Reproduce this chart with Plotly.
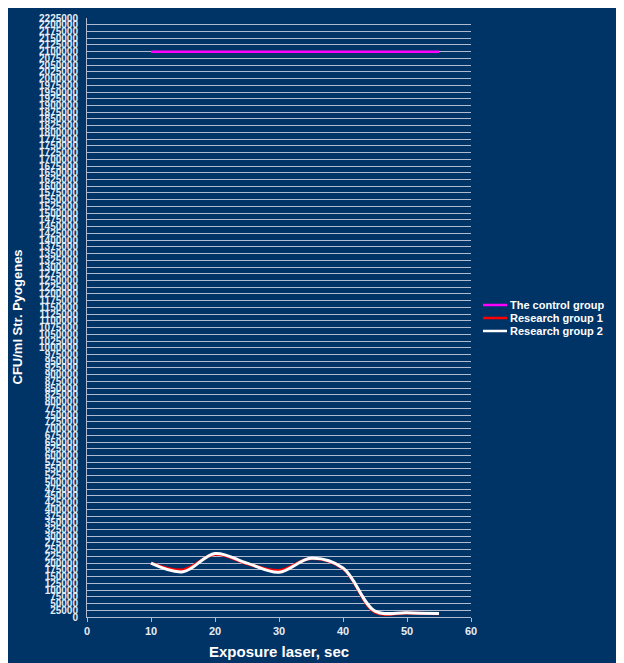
import plotly.graph_objects as go

# ---- data ----
x_control = [10, 55]
y_control = [2100000, 2100000]

x_groups = [10, 15, 20, 25, 30, 35, 40, 45, 50, 55]
y_group1 = [200000, 175000, 233000, 198000, 173000, 217000, 180000, 18000, 15000, 12000]
y_group2 = [200000, 168000, 236000, 200000, 166000, 218000, 182000, 22000, 16000, 13000]

series_names = ["The control group", "Research group 1", "Research group 2"]
series_colors = ["#ff00ff", "#ff0000", "#ffffff"]

x_ticks = [0, 10, 20, 30, 40, 50, 60]
y_max = 2225000
y_step = 25000

NAVY = "#003366"
GRID = "#aebbd0"
TXT = "#e6ecf4"

# page body has an 8px margin: figure pixel = reference pixel - 8
OFF = 8
W, H = 624 - OFF, 663 - OFF
L = 87 - OFF
T = 18 - OFF
R = W - (471 - OFF)
B = H - (617 - OFF)
pw, ph = W - L - R, H - T - B


def px_x(p):
    return (p - OFF - L) / pw


def px_y(p):
    return (H - B - (p - OFF)) / ph


fig = go.Figure()
fig.add_trace(go.Scatter(x=x_control, y=y_control, mode="lines", name=series_names[0],
                         line=dict(color=series_colors[0], width=2.5)))
fig.add_trace(go.Scatter(x=x_groups, y=y_group1, mode="lines", name=series_names[1],
                         line=dict(color=series_colors[1], width=3, shape="spline", smoothing=1)))
fig.add_trace(go.Scatter(x=x_groups, y=y_group2, mode="lines", name=series_names[2],
                         line=dict(color=series_colors[2], width=3, shape="spline", smoothing=1)))

# compact legend drawn as line swatches + labels (reference spacing is tighter than plotly's legend)
legend_y = [305, 318, 331]
for name, color, ly in zip(series_names, series_colors, legend_y):
    fig.add_shape(type="line", xref="paper", yref="paper",
                  x0=px_x(483), x1=px_x(507), y0=px_y(ly), y1=px_y(ly),
                  line=dict(color=color, width=2.5))
    fig.add_annotation(xref="paper", yref="paper", x=px_x(508), y=px_y(ly),
                       xanchor="left", yanchor="middle", showarrow=False, text=name,
                       font=dict(size=11, color="#ffffff", weight="bold"))

# axis titles
fig.add_annotation(xref="paper", yref="paper", x=px_x(17), y=0.5, textangle=-90,
                   xanchor="center", yanchor="middle", showarrow=False,
                   text="CFU/ml Str. Pyogenes",
                   font=dict(size=13, color="#ffffff", weight="bold"))
fig.add_annotation(xref="paper", yref="paper", x=0.5, y=px_y(651),
                   xanchor="center", yanchor="middle", showarrow=False,
                   text="Exposure laser, sec",
                   font=dict(size=15, color="#ffffff", weight="bold"))

fig.update_layout(
    width=W, height=H,
    margin=dict(l=L, r=R, t=T, b=B, pad=0, autoexpand=False),
    paper_bgcolor=NAVY,
    plot_bgcolor=NAVY,
    font=dict(family="Liberation Sans, Arial, sans-serif", color=TXT),
    showlegend=False,
    xaxis=dict(range=[0, 60], tickvals=x_ticks, ticks="outside", ticklen=4,
               tickcolor=GRID, showgrid=False, zeroline=False, automargin=False,
               showline=True, linecolor=GRID, linewidth=1,
               tickfont=dict(size=11, color=TXT, weight="bold")),
    yaxis=dict(range=[0, y_max + 1], tick0=0, dtick=y_step, ticks="outside", ticklen=4,
               tickcolor=NAVY, showgrid=True, gridcolor=GRID, gridwidth=1,
               zeroline=False, showline=True, linecolor=GRID, linewidth=1,
               automargin=False, tickformat="d", separatethousands=False,
               ticklabelstandoff=2,
               tickfont=dict(size=10, color=TXT, weight="bold")),
)

fig.write_html("out.html")
